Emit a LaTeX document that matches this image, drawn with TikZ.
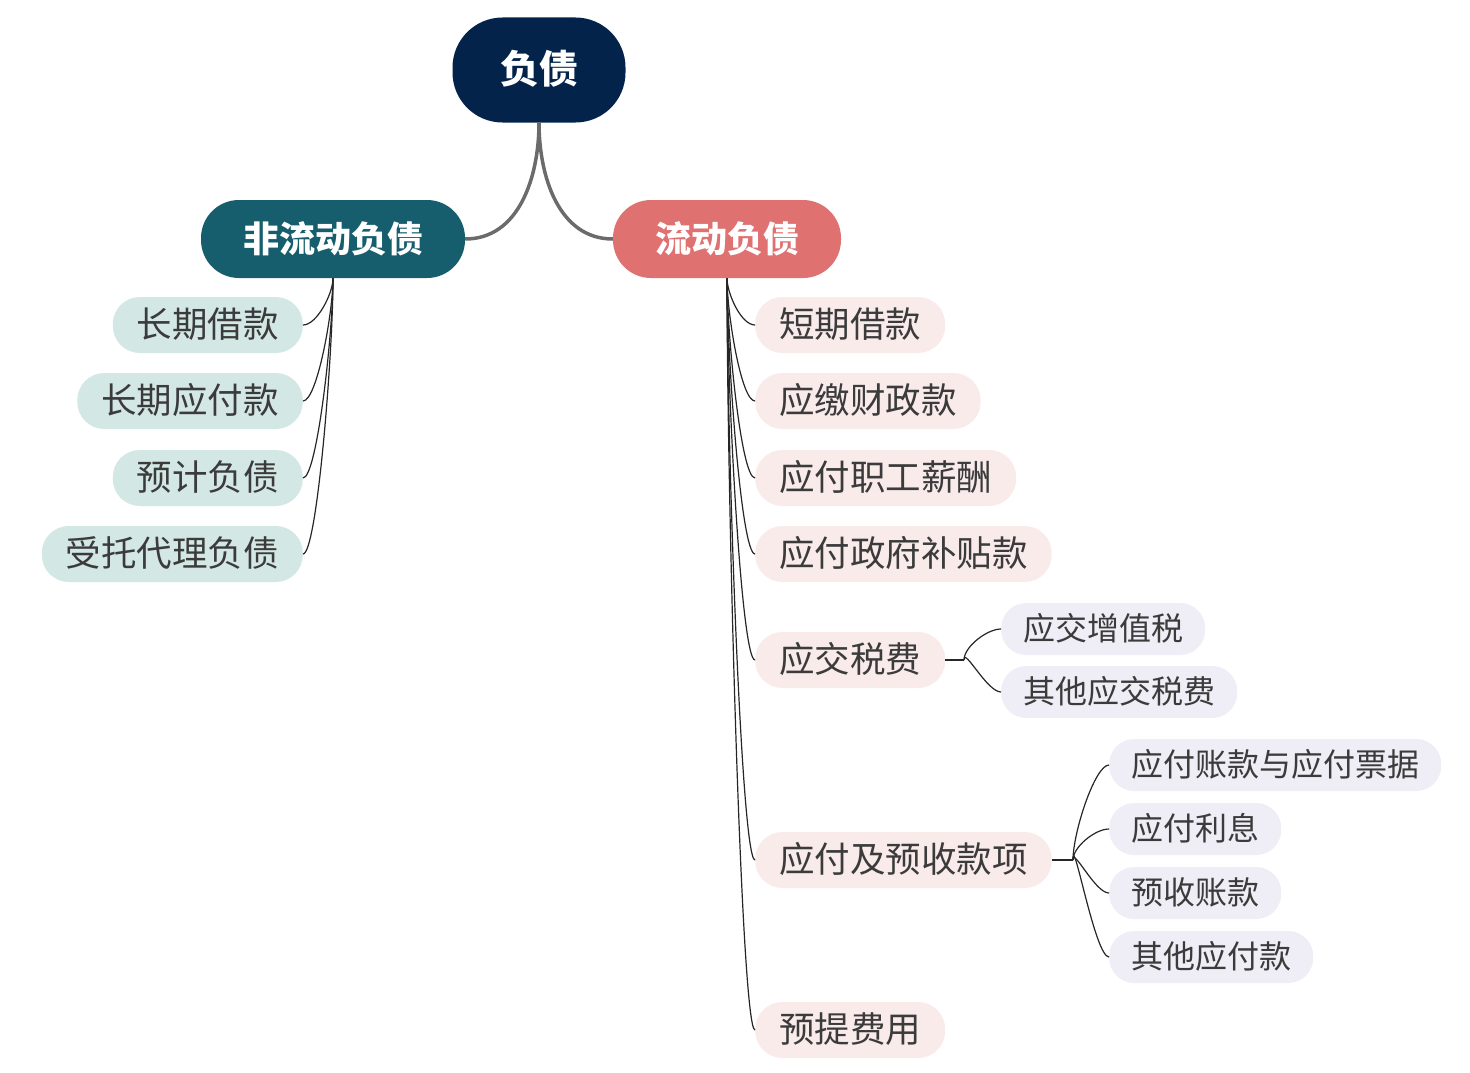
\documentclass[tikz,border=0pt]{standalone}
\usepackage{fontspec}
\setmainfont{Noto Sans CJK SC}
\definecolor{rootc}{HTML}{03234B}
\definecolor{leftc}{HTML}{165E6D}
\definecolor{rightc}{HTML}{E07171}
\definecolor{leftleaf}{HTML}{D3E8E4}
\definecolor{rightleaf}{HTML}{FAEBEB}
\definecolor{subleaf}{HTML}{EFEDF5}
\definecolor{textc}{HTML}{3B3B3B}
\begin{document}
\begin{tikzpicture}[
            x=1pt, y=-1pt,
            every node/.style={inner ysep=0pt},
            rootbox/.style={fill=rootc, text=white, font=\fontsize{39}{39}\selectfont\bfseries, text height=33.5pt, text depth=5.5pt, minimum width=173pt, minimum height=105pt, rounded corners=50pt},
            mainbox/.style={text=white, font=\fontsize{36}{36}\selectfont\bfseries, text height=31pt, text depth=5pt, minimum height=78pt, inner xsep=42pt, rounded corners=38pt},
            leaf/.style={text=textc, font=\fontsize{35.5}{36}\selectfont, text height=30.5pt, text depth=5pt, minimum height=56pt, inner xsep=24pt, rounded corners=27pt},
            subleaf/.style={fill=subleaf, text=textc, font=\fontsize{32}{32}\selectfont, text height=27.5pt, text depth=4.5pt, minimum height=52pt, inner xsep=22pt, rounded corners=25pt},
            trunk/.style={draw=black!58, line width=3.5pt},
            twig/.style={draw=black!85, line width=1.2pt, out looseness=0.7, in distance=14pt}
            ]
            \useasboundingbox (0,0) rectangle (1470,1073);
            \node[rootbox] (root) at (539, 70) {负债};
            \node[mainbox, fill=leftc] (lm) at (333, 239) {非流动负债};
            \node[mainbox, fill=rightc] (rm) at (727, 239) {流动负债};
            \node[leaf, fill=leftleaf, anchor=east] (l1) at (303, 325) {长期借款};
            \node[leaf, fill=leftleaf, anchor=east] (l2) at (303, 401) {长期应付款};
            \node[leaf, fill=leftleaf, anchor=east] (l3) at (303, 478) {预计负债};
            \node[leaf, fill=leftleaf, anchor=east] (l4) at (303, 554) {受托代理负债};
            \node[leaf, fill=rightleaf, anchor=west] (r1) at (755, 325) {短期借款};
            \node[leaf, fill=rightleaf, anchor=west] (r2) at (755, 401) {应缴财政款};
            \node[leaf, fill=rightleaf, anchor=west] (r3) at (755, 478) {应付职工薪酬};
            \node[leaf, fill=rightleaf, anchor=west] (r4) at (755, 554) {应付政府补贴款};
            \node[leaf, fill=rightleaf, anchor=west] (r5) at (755, 660) {应交税费};
            \node[leaf, fill=rightleaf, anchor=west] (r6) at (755, 860) {应付及预收款项};
            \node[leaf, fill=rightleaf, anchor=west] (r7) at (755, 1030) {预提费用};
            \node[subleaf, anchor=west] (t1) at (1001, 629) {应交增值税};
            \node[subleaf, anchor=west] (t2) at (1001, 692) {其他应交税费};
            \node[subleaf, anchor=west] (p1) at (1109, 765) {应付账款与应付票据};
            \node[subleaf, anchor=west] (p2) at (1109, 829) {应付利息};
            \node[subleaf, anchor=west] (p3) at (1109, 893) {预收账款};
            \node[subleaf, anchor=west] (p4) at (1109, 957) {其他应付款};
            \coordinate (tj) at (964, 660);
            \coordinate (pj) at (1073, 860);
            \draw[trunk] (root.south) to[out=-90, in=0] (lm.east);
            \draw[trunk] (root.south) to[out=-90, in=180] (rm.west);
            \foreach \n in {l1,l2,l3,l4}
                \draw[twig] (lm.south) to[out=-90, in=0] (\n.east);
            \foreach \n in {r1,r2,r3,r4,r5,r6,r7}
                \draw[twig] (rm.south) to[out=-90, in=180] (\n.west);
            \draw[twig] (r5.east) -- (tj);
            \draw[twig] (r6.east) -- (pj);
            \foreach \n in {t1,t2}
                \draw[twig] (tj) to[out=90, in=180] (\n.west);
            \foreach \n in {p1,p2,p3,p4}
                \draw[twig] (pj) to[out=90, in=180] (\n.west);
        \end{tikzpicture}
\end{document}
